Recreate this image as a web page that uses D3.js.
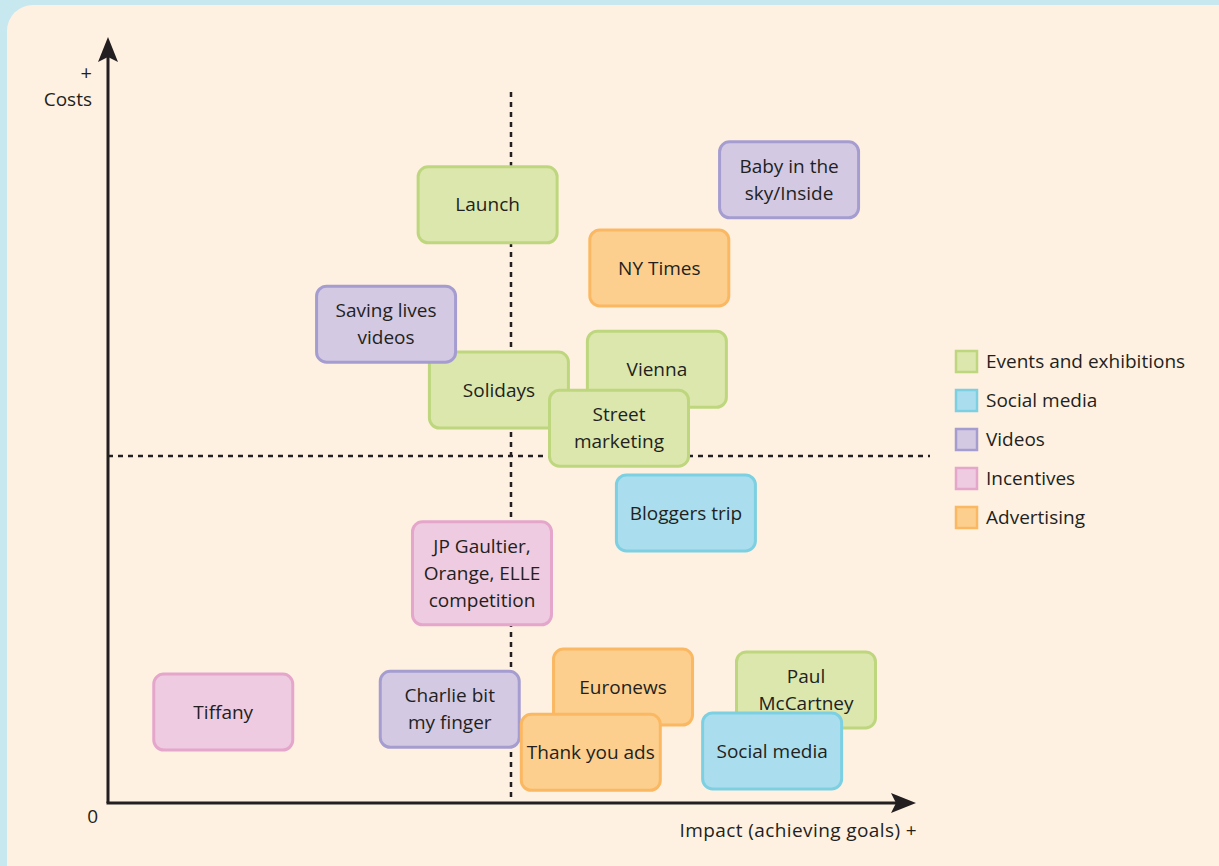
<!DOCTYPE html>
<html>
<head>
<meta charset="utf-8">
<script src="https://cdn.jsdelivr.net/npm/d3@7"></script>
<style>
  html, body { margin: 0; padding: 0; background: #c8e8f0; }
  svg { display: block; }
  text { font-family: "Open Sans", sans-serif; fill: #231f20; }
</style>
</head>
<body>
<svg id="chart" width="1219" height="866"></svg>
<script>
// categories for the legend, in order
const categories = [
  "Events and exhibitions",
  "Social media",
  "Videos",
  "Incentives",
  "Advertising",
];

// initiatives, drawn in this order (later ones sit on top)
const labels = [
  "Launch",
  "Baby in the\nsky/Inside",
  "NY Times",
  "Solidays",
  "Saving lives\nvideos",
  "Vienna",
  "Street\nmarketing",
  "Bloggers trip",
  "JP Gaultier,\nOrange, ELLE\ncompetition",
  "Tiffany",
  "Charlie bit\nmy finger",
  "Euronews",
  "Thank you ads",
  "Paul\nMcCartney",
  "Social media",
];
const itemCategory = [
  "Events and exhibitions",
  "Videos",
  "Advertising",
  "Events and exhibitions",
  "Videos",
  "Events and exhibitions",
  "Events and exhibitions",
  "Social media",
  "Incentives",
  "Incentives",
  "Videos",
  "Advertising",
  "Advertising",
  "Events and exhibitions",
  "Social media",
];
// impact (x) and costs (y), 0-10 scale, midpoint 5
const impact = [4.71, 8.45, 6.84, 4.85, 3.45, 6.81, 6.34, 7.17, 4.64, 1.43, 4.24, 6.39, 5.99, 8.66, 8.24];
const costs = [8.62, 8.98, 7.71, 5.95, 6.90, 6.25, 5.40, 4.18, 3.31, 1.31, 1.35, 1.67, 0.73, 1.63, 0.75];

const colors = {
  "Events and exhibitions": { fill: "#dce7ae", stroke: "#bed77e" },
  "Social media": { fill: "#aadeee", stroke: "#7dd0e2" },
  "Videos": { fill: "#d3c9e3", stroke: "#a59dd0" },
  "Incentives": { fill: "#eecbe0", stroke: "#e4a6cb" },
  "Advertising": { fill: "#fccf8f", stroke: "#fbb862" },
};

const fontSize = 19;
const svg = d3.select("#chart");

// cream panel
svg.append("rect")
  .attr("x", 7).attr("y", 5)
  .attr("width", 1260).attr("height", 900)
  .attr("rx", 26)
  .attr("fill", "#fef1e2");

const x = d3.scaleLinear().domain([0, 10]).range([108, 914]);
const y = d3.scaleLinear().domain([0, 10]).range([803, 109]);

const ink = "#231f20";

// quadrant dividers
svg.append("line")
  .attr("x1", x(5)).attr("x2", x(5))
  .attr("y1", 92).attr("y2", y(0))
  .attr("stroke", ink).attr("stroke-width", 2.5)
  .attr("stroke-dasharray", "5,5");
svg.append("line")
  .attr("x1", x(0)).attr("x2", 930)
  .attr("y1", y(5)).attr("y2", y(5))
  .attr("stroke", ink).attr("stroke-width", 2.5)
  .attr("stroke-dasharray", "5,5");

// axes
svg.append("line")
  .attr("x1", x(0)).attr("x2", x(0))
  .attr("y1", y(0)).attr("y2", 55)
  .attr("stroke", ink).attr("stroke-width", 3);
svg.append("path")
  .attr("d", `M${x(0)},37 L${x(0) + 10},62 L${x(0)},57 L${x(0) - 10},62 Z`)
  .attr("fill", ink);
svg.append("line")
  .attr("x1", x(0) - 1.5).attr("x2", 898)
  .attr("y1", y(0)).attr("y2", y(0))
  .attr("stroke", ink).attr("stroke-width", 3);
svg.append("path")
  .attr("d", `M916,${y(0)} L891,${y(0) - 10} L896,${y(0)} L891,${y(0) + 10} Z`)
  .attr("fill", ink);

// axis labels
svg.append("text").attr("x", 92).attr("y", 80)
  .attr("text-anchor", "end").attr("font-size", 20).text("+");
svg.append("text").attr("x", 92).attr("y", 106)
  .attr("text-anchor", "end").attr("font-size", fontSize).text("Costs");
svg.append("text").attr("x", 98).attr("y", 823)
  .attr("text-anchor", "end").attr("font-size", fontSize).text("0");
svg.append("text").attr("x", 917).attr("y", 837)
  .attr("text-anchor", "end").attr("font-size", fontSize)
  .attr("letter-spacing", 0.4)
  .text("Impact (achieving goals) +");

// initiative boxes
const boxW = 139;
const lineH = 27;
const items = labels.map((label, i) => ({
  lines: label.split("\n"),
  cat: itemCategory[i],
  cx: x(impact[i]),
  cy: y(costs[i]),
}));

const g = svg.selectAll("g.item")
  .data(items)
  .join("g")
  .attr("class", "item")
  .attr("transform", (d) => `translate(${d.cx},${d.cy})`);

g.append("rect")
  .attr("x", -boxW / 2)
  .attr("y", (d) => -Math.max(76, 22 + lineH * d.lines.length) / 2)
  .attr("width", boxW)
  .attr("height", (d) => Math.max(76, 22 + lineH * d.lines.length))
  .attr("rx", 10)
  .attr("fill", (d) => colors[d.cat].fill)
  .attr("stroke", (d) => colors[d.cat].stroke)
  .attr("stroke-width", 3);

g.each(function (d) {
  const t = d3.select(this).append("text")
    .attr("text-anchor", "middle")
    .attr("font-size", fontSize);
  const off = -(d.lines.length - 1) * lineH / 2;
  d.lines.forEach((ln, j) => {
    t.append("tspan")
      .attr("x", 0)
      .attr("y", off + j * lineH)
      .attr("dy", "0.35em")
      .text(ln);
  });
});

// legend
const legend = svg.selectAll("g.legend")
  .data(categories)
  .join("g")
  .attr("class", "legend")
  .attr("transform", (d, i) => `translate(955,${361 + i * 39})`);
legend.append("rect")
  .attr("x", 1).attr("y", -10)
  .attr("width", 21).attr("height", 21)
  .attr("fill", (d) => colors[d].fill)
  .attr("stroke", (d) => colors[d].stroke)
  .attr("stroke-width", 2.5);
legend.append("text")
  .attr("x", 31).attr("y", 0).attr("dy", "0.35em")
  .attr("font-size", fontSize)
  .text((d) => d);
</script>
</body>
</html>
